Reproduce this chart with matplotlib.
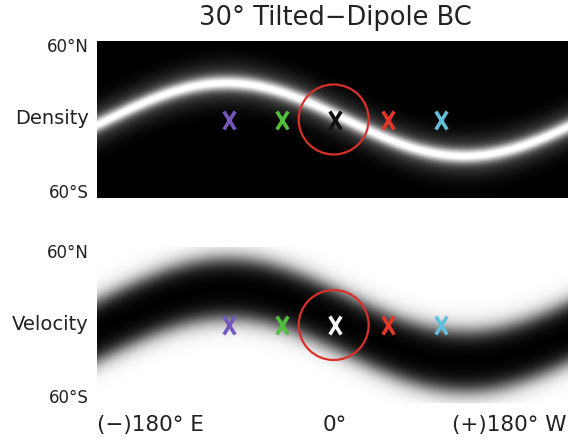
import numpy as np
import matplotlib
matplotlib.use("Agg")
import matplotlib.pyplot as plt
from matplotlib.path import Path
from matplotlib.patches import Ellipse

# ---- data ----
title = "30° Tilted\u2212Dipole BC"
panel_names = ["Density", "Velocity"]
lat_labels = ["60°N", "60°S"]
lon_labels = ["(\u2212)180° E", "0°", "(+)180° W"]
lon_ticks = [-180, 0, 180]
tilt_amplitude = 28.0          # deg, current-sheet excursion
density_phase = 8.0            # deg
velocity_phase = 9.0           # deg
density_core_width = 5.5       # deg
density_glow_width = 15.0      # deg
velocity_half_width = 23.0     # deg
velocity_edge = 9.0            # deg
marker_lons = [-80, -40, 0, 40, 80]
marker_lats = [0, 0, 0, 0, 0]
marker_colors_top = ["#7458bd", "#4fbf3c", "#111111", "#e5362a", "#62bfd9"]
marker_colors_bot = ["#7458bd", "#4fbf3c", "#f4f4f4", "#e5362a", "#62bfd9"]
circle_center = (-1.0, 0.0)
circle_radius_deg = 26.5

# ---- fields ----
lon = np.linspace(-180, 180, 721)
lat = np.linspace(-60, 60, 361)
LON, LAT = np.meshgrid(lon, lat)
d_n = LAT - (-tilt_amplitude * np.sin(np.radians(LON - density_phase)))
density = 0.75 * np.exp(-(d_n / density_core_width) ** 2) + 0.3 * np.exp(-(d_n / density_glow_width) ** 2)
density = np.clip(density, 0, 1)
d_v = LAT - (-tilt_amplitude * np.sin(np.radians(LON - velocity_phase)))
velocity = 0.5 * (1 + np.tanh((np.abs(d_v) - velocity_half_width) / velocity_edge))

W, H = 568, 444
fig = plt.figure(figsize=(W / 100, H / 100), dpi=100)
fig.patch.set_facecolor("white")

left_px, right_px = 97.3, 572.7
panels_px = [(41, 198), (247, 403)]
fields = [density, velocity]
text_color = "#222222"

xmark = Path([(-0.62, -1), (0.62, 1), (-0.62, 1), (0.62, -1)],
             [Path.MOVETO, Path.LINETO, Path.MOVETO, Path.LINETO])

for i, (top, bot) in enumerate(panels_px):
    ax = fig.add_axes([left_px / W, 1 - bot / H, (right_px - left_px) / W, (bot - top) / H])
    ax.imshow(fields[i], cmap="gray", vmin=0, vmax=1, origin="lower",
              extent=[-180, 180, -60, 60], aspect="auto", interpolation="bilinear")
    ax.set_xlim(-180, 180)
    ax.set_ylim(-60, 60)
    ax.set_xticks([])
    ax.set_yticks([])
    for s in ax.spines.values():
        s.set_visible(False)
    cols = marker_colors_top if i == 0 else marker_colors_bot
    for lo, la, c in zip(marker_lons, marker_lats, cols):
        ax.plot(lo, la, marker=xmark, ms=13, mew=2.6, color=c, linestyle="none")
    px_per_lon = (right_px - left_px) / 360.0
    px_per_lat = (bot - top) / 120.0
    r_px = circle_radius_deg * px_per_lon
    ax.add_patch(Ellipse(circle_center, 2 * r_px / px_per_lon, 2 * r_px / px_per_lat,
                         fill=False, edgecolor="#d8302a", lw=1.6))
    fig.text(89 / W, 1 - (top + 6) / H, lat_labels[0], ha="right", va="center",
             fontsize=12, color=text_color)
    fig.text(89 / W, 1 - (bot - 5) / H, lat_labels[1], ha="right", va="center",
             fontsize=12, color=text_color)
    fig.text(89 / W, 1 - ((top + bot) / 2 - 1) / H, panel_names[i], ha="right", va="center",
             fontsize=14, color=text_color)

fig.text(335 / W, 1 - 18 / H, title, ha="center", va="center", fontsize=18.5, color=text_color)

xpos_px = [left_px + (t + 180) / 360 * (right_px - left_px) for t in lon_ticks]
xpos_px[-1] = 566.5
has = ["left", "center", "right"]
for xp, lab, ha in zip(xpos_px, lon_labels, has):
    fig.text(xp / W, 1 - 425 / H, lab, ha=ha, va="center", fontsize=15.5, color=text_color)

fig.savefig("out.png", dpi=100)
